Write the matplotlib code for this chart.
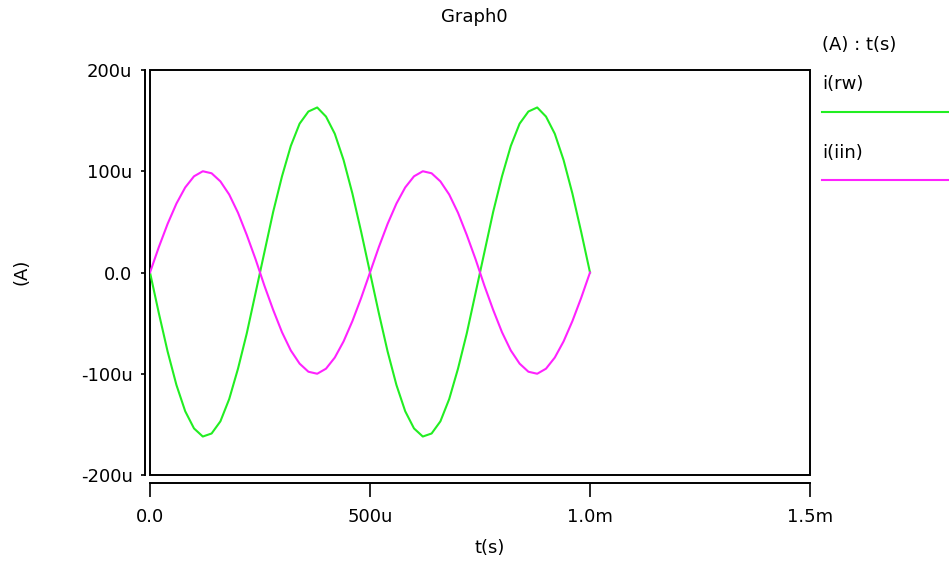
import matplotlib
matplotlib.use('Agg')
import matplotlib.pyplot as plt
from matplotlib.lines import Line2D
from matplotlib.patches import Rectangle
import numpy as np

# sample times (s), one sample every 20 us
t = np.arange(0, 1001, 20) * 1e-6

# currents, in uA
i_rw = [0, -40, -78, -111, -137, -154, -162, -159, -147, -125, -95, -60, -20,
        20, 60, 95, 125, 147, 159, 163, 154, 137, 111, 78, 40,
        0, -40, -78, -111, -137, -154, -162, -159, -147, -125, -95, -60, -20,
        20, 60, 95, 125, 147, 159, 163, 154, 137, 111, 78, 40, 0]
i_iin = [0, 25, 48, 68, 84, 95, 100, 98, 90, 77, 59, 37, 13,
         -13, -37, -59, -77, -90, -98, -100, -95, -84, -68, -48, -25,
         0, 25, 48, 68, 84, 95, 100, 98, 90, 77, 59, 37, 13,
         -13, -37, -59, -77, -90, -98, -100, -95, -84, -68, -48, -25, 0]

xticks = [0, 500e-6, 1.0e-3, 1.5e-3]
xlabels = ['0.0', '500u', '1.0m', '1.5m']
yticks = [-200e-6, -100e-6, 0, 100e-6, 200e-6]
ylabels = ['-200u', '-100u', '0.0', '100u', '200u']

green = '#22ee22'
magenta = '#ff22ff'

plt.rcParams['font.family'] = ['DejaVu Sans']
fig = plt.figure(figsize=(9.49, 5.64), dpi=100)
W, H = 949.0, 564.0
ax = fig.add_axes([150 / W, 1 - 475 / H, 660 / W, 405 / H])

ax.plot(t, np.array(i_rw) * 1e-6, color=green, linewidth=1.5)
ax.plot(t, np.array(i_iin) * 1e-6, color=magenta, linewidth=1.5)

ax.set_xlim(0, 1.5e-3)
ax.set_ylim(-200e-6, 200e-6)
ax.set_xticks(xticks)
ax.set_xticklabels(xlabels)
ax.set_yticks(yticks)
ax.set_yticklabels(ylabels)

# detached axis lines, plot frame drawn separately
for s in ['top', 'right']:
    ax.spines[s].set_visible(False)
ax.spines['left'].set_position(('outward', 3.6))
ax.spines['bottom'].set_position(('outward', 5.4))
ax.spines['left'].set_linewidth(1.4)
ax.spines['bottom'].set_linewidth(1.4)
ax.add_patch(Rectangle((0, 0), 1, 1, transform=ax.transAxes, fill=False,
                       edgecolor='black', linewidth=1.4, clip_on=False))
ax.tick_params(axis='y', length=3, width=1.2, pad=6, labelsize=13)
ax.tick_params(axis='x', length=10, width=1.2, pad=8, labelsize=13)

fig.text(474 / W, 1 - 17 / H, 'Graph0', ha='center', va='center', fontsize=13)
fig.text(490 / W, 1 - 548 / H, 't(s)', ha='center', va='center', fontsize=13)
fig.text(22 / W, 1 - 272 / H, '(A)', ha='center', va='center', fontsize=13,
         rotation=90)

# legend on the right
fig.text(822 / W, 1 - 45 / H, '(A) : t(s)', ha='left', va='center', fontsize=13)
fig.text(822 / W, 1 - 84 / H, 'i(rw)', ha='left', va='center', fontsize=13)
fig.text(822 / W, 1 - 153 / H, 'i(iin)', ha='left', va='center', fontsize=13)
fig.add_artist(Line2D([822 / W, 1.0], [1 - 112 / H, 1 - 112 / H],
                      color=green, linewidth=1.5))
fig.add_artist(Line2D([822 / W, 1.0], [1 - 180 / H, 1 - 180 / H],
                      color=magenta, linewidth=1.5))

fig.savefig('out.png', dpi=100)
